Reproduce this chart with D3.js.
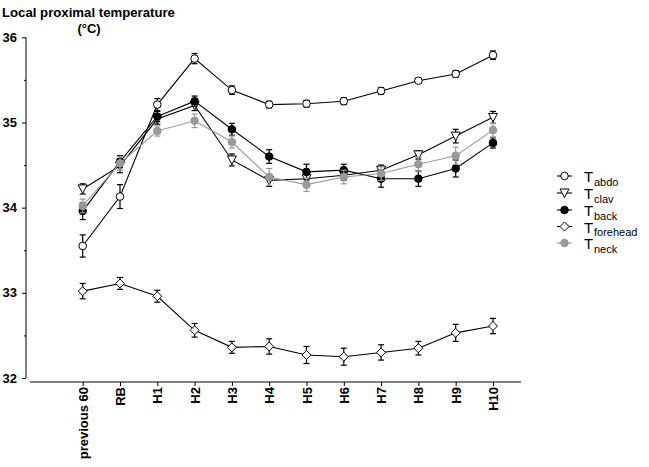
<!DOCTYPE html>
<html><head><meta charset="utf-8">
<script src="https://cdn.jsdelivr.net/npm/d3@7"></script>
<style>
body{margin:0;background:#fff;}
text{font-family:Arial,"Liberation Sans",sans-serif;}
</style></head>
<body><svg id="c" width="649" height="467"></svg>
<script>
const categories = ["previous 60","RB","H1","H2","H3","H4","H5","H6","H7","H8","H9","H10"];
const yTicks = [32,33,34,35,36];
const seriesNames = ["abdo","clav","back","forehead","neck"];
const abdo     = [33.55,34.13,35.21,35.75,35.38,35.21,35.22,35.25,35.37,35.49,35.57,35.79];
const abdoErr  = [0.13,0.14,0.07,0.06,0.05,0.04,0.04,0.04,0.04,0.03,0.04,0.05];
const clav     = [34.22,34.49,35.04,35.20,34.56,34.32,34.34,34.38,34.44,34.62,34.84,35.06];
const clavErr  = [0.06,0.08,0.06,0.06,0.07,0.07,0.07,0.06,0.06,0.05,0.08,0.07];
const back     = [33.96,34.54,35.07,35.25,34.92,34.60,34.42,34.44,34.34,34.34,34.46,34.76];
const backErr  = [0.10,0.07,0.06,0.06,0.07,0.08,0.09,0.07,0.10,0.09,0.10,0.06];
const forehead = [33.02,33.11,32.96,32.56,32.36,32.37,32.27,32.25,32.30,32.35,32.53,32.61];
const foreheadErr = [0.09,0.07,0.07,0.08,0.07,0.09,0.10,0.10,0.09,0.08,0.10,0.09];
const neck     = [34.02,34.52,34.90,35.02,34.77,34.36,34.27,34.36,34.40,34.51,34.61,34.91];
const neckErr  = [0.08,0.08,0.06,0.08,0.07,0.10,0.08,0.08,0.08,0.08,0.10,0.08];

const svg = d3.select("#c");
const x = d3.scalePoint().domain(categories).range([82.7,493]);
const y = d3.scaleLinear().domain([32,36]).range([378,37.3]);

// Title
svg.append("text").attr("x",2).attr("y",17).attr("font-size",13.2).attr("font-weight","bold").text("Local proximal temperature");
svg.append("text").attr("x",89).attr("y",33).attr("text-anchor","middle").attr("font-size",13).attr("font-weight","bold").text("(°C)");

// Y axis
const yAxis = d3.axisLeft(y).tickValues(yTicks).tickSize(4).tickPadding(5).tickFormat(d3.format("d"));
const gy = svg.append("g").attr("transform","translate(26,0)").call(yAxis);
gy.select(".domain").attr("d","M0,"+y(36)+"V"+y(32)).attr("stroke","#000");
gy.selectAll("text").attr("font-size",13).attr("font-weight","bold").attr("font-family","Arial, Liberation Sans, sans-serif");
const gyMinor = svg.append("g").attr("transform","translate(26,0)").call(d3.axisLeft(y).tickValues([32.5,33.5,34.5,35.5]).tickSize(2).tickFormat(""));
gyMinor.select(".domain").remove();

// X axis
const gx = svg.append("g").attr("transform","translate(0,382)").call(d3.axisBottom(x).tickSize(4).tickSizeOuter(0));
gx.select(".domain").attr("d","M30,0H521").attr("stroke","#000");
gx.selectAll("text").attr("font-size",13).attr("font-weight","bold")
  .attr("font-family","Arial, Liberation Sans, sans-serif")
  .attr("transform","rotate(-90)").attr("text-anchor","end").attr("dy","0.35em").attr("x",-5).attr("y",0);

const series = [
  {name:"abdo", v:abdo, e:abdoErr, sym:"circle", fill:"#fff", col:"#000"},
  {name:"clav", v:clav, e:clavErr, sym:"tri", fill:"#fff", col:"#000"},
  {name:"back", v:back, e:backErr, sym:"circle", fill:"#000", col:"#000"},
  {name:"forehead", v:forehead, e:foreheadErr, sym:"diamond", fill:"#fff", col:"#000"},
  {name:"neck", v:neck, e:neckErr, sym:"circle", fill:"#999", col:"#999"}
];

function drawMarker(g, s, cx, cy){
  if(s.sym==="circle"){
    g.append("circle").attr("cx",cx).attr("cy",cy).attr("r",3.8).attr("fill",s.fill).attr("stroke",s.col).attr("stroke-width",1);
  } else if(s.sym==="tri"){
    g.append("path").attr("d",`M${cx-4.5},${cy-4}L${cx+4.5},${cy-4}L${cx},${cy+4.5}Z`).attr("fill",s.fill).attr("stroke",s.col).attr("stroke-width",1);
  } else {
    g.append("path").attr("d",`M${cx},${cy-4.5}L${cx+4.5},${cy}L${cx},${cy+4.5}L${cx-4.5},${cy}Z`).attr("fill",s.fill).attr("stroke",s.col).attr("stroke-width",1);
  }
}

const line = d3.line().x((d,i)=>x(categories[i])).y(d=>y(d));
series.forEach(s=>{
  const g = svg.append("g");
  s.v.forEach((v,i)=>{
    const cx = x(categories[i]);
    const y1 = y(v+s.e[i]), y2 = y(v-s.e[i]);
    g.append("line").attr("x1",cx).attr("x2",cx).attr("y1",y1).attr("y2",y2).attr("stroke",s.col).attr("stroke-width",1.2);
    g.append("line").attr("x1",cx-3).attr("x2",cx+3).attr("y1",y1).attr("y2",y1).attr("stroke",s.col).attr("stroke-width",1.2);
    g.append("line").attr("x1",cx-3).attr("x2",cx+3).attr("y1",y2).attr("y2",y2).attr("stroke",s.col).attr("stroke-width",1.2);
  });
  g.append("path").attr("d",line(s.v)).attr("fill","none").attr("stroke",s.col).attr("stroke-width",1.1);
  s.v.forEach((v,i)=>drawMarker(g,s,x(categories[i]),y(v)));
});

// Legend
const legY = [176,193,210,226.5,243];
series.forEach((s,i)=>{
  const g = svg.append("g");
  const cy = legY[i];
  g.append("line").attr("x1",557).attr("x2",572).attr("y1",cy).attr("y2",cy).attr("stroke",s.col).attr("stroke-width",1.1);
  drawMarker(g,s,564.5,cy);
  g.append("text").attr("x",584).attr("y",cy+6).attr("font-size",15).attr("fill","#000").text("T");
  g.append("text").attr("x",594).attr("y",cy+9.5).attr("font-size",11).attr("fill","#000").text(s.name);
});
</script>
</body></html>
